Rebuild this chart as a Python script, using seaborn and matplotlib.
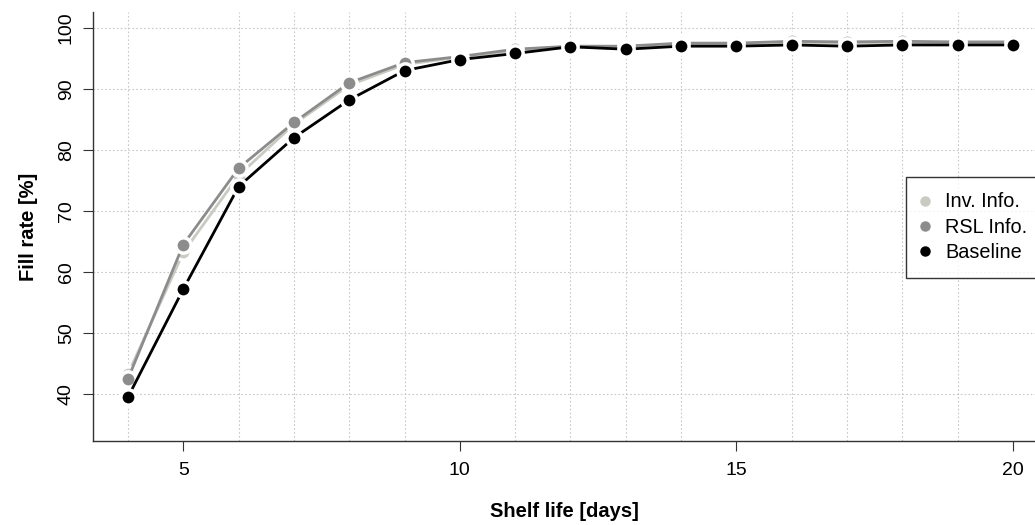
import pandas as pd
import matplotlib.pyplot as plt
import seaborn as sns
from matplotlib.lines import Line2D

# Data
shelf_life = list(range(4, 21))
inv_info = [43.3, 63.2, 75.8, 84.2, 90.6, 94.0, 95.2, 96.3, 96.9, 96.9, 97.3, 97.3, 97.6, 97.5, 97.6, 97.6, 97.5]
rsl_info = [42.5, 64.5, 77.0, 84.5, 91.0, 94.3, 95.3, 96.5, 97.0, 97.0, 97.5, 97.5, 97.8, 97.7, 97.8, 97.7, 97.7]
baseline = [39.5, 57.2, 74.0, 82.0, 88.2, 93.0, 94.8, 95.8, 96.9, 96.5, 97.0, 97.0, 97.2, 97.0, 97.2, 97.2, 97.2]

series_names = ["Inv. Info.", "RSL Info.", "Baseline"]
series_colors = ["#c9cbc2", "#8c8c8c", "#000000"]

df = pd.DataFrame({
    "Shelf life": shelf_life * 3,
    "Fill rate": inv_info + rsl_info + baseline,
    "Series": [n for n in series_names for _ in shelf_life],
})

sns.set_style("white")
plt.rcParams["font.family"] = ["Liberation Sans", "DejaVu Sans"]

fig = plt.figure(figsize=(10.35, 5.25), dpi=100)
ax = fig.add_axes([93 / 1035, 84 / 525, 942 / 1035, 429 / 525])

grid_kw = dict(color="#c8c8c8", linestyle=(0, (1.5, 2)), linewidth=0.8)
ax.set_axisbelow(True)

for name, col in zip(series_names, series_colors):
    sub = df[df["Series"] == name]
    sns.lineplot(data=sub, x="Shelf life", y="Fill rate", ax=ax, color=col,
                 linewidth=2, marker="o", markersize=11, markeredgecolor="white",
                 markeredgewidth=2.5, markerfacecolor=col, legend=False)

ax.set_xlim(3.367, 20.4)
ax.set_ylim(32.3, 102.6)
ax.set_xticks(range(4, 21), minor=True)
ax.set_xticks([5, 10, 15, 20])
ax.set_yticks(range(40, 101, 10))
ax.xaxis.grid(True, which="minor", **grid_kw)
ax.yaxis.grid(True, which="major", **grid_kw)
ax.tick_params(axis="x", which="minor", length=0)
ax.tick_params(axis="both", which="major", direction="out", length=7, width=0.8,
               colors="#333333", labelcolor="black", labelsize=14,
               bottom=True, left=True)
ax.tick_params(axis="x", pad=8)
ax.tick_params(axis="y", pad=6)
for lbl in ax.get_yticklabels():
    lbl.set_rotation(90)
    lbl.set_va("center")

for side in ["top", "right"]:
    ax.spines[side].set_visible(False)
for side in ["left", "bottom"]:
    ax.spines[side].set_color("#333333")
    ax.spines[side].set_linewidth(1)

ax.set_xlabel("Shelf life [days]", fontsize=14.5, fontweight="bold", color="black", labelpad=17)
ax.set_ylabel("Fill rate [%]", fontsize=14.5, fontweight="bold", color="black", labelpad=14)

handles = [Line2D([], [], linestyle="none", marker="o", markersize=6.5,
                  color=c, markeredgecolor=c) for c in series_colors]
leg = ax.legend(handles, series_names, loc="upper left",
                bbox_to_anchor=((906 - 93) / 942, (441 - 177) / 429),
                frameon=True, fancybox=False, edgecolor="black", fontsize=14.3,
                handlelength=0.35, handletextpad=0.83, borderpad=0.78,
                labelspacing=0.32, borderaxespad=0)
leg.get_frame().set_linewidth(1)
for t in leg.get_texts():
    t.set_color("black")

fig.savefig("out.png", dpi=100)
